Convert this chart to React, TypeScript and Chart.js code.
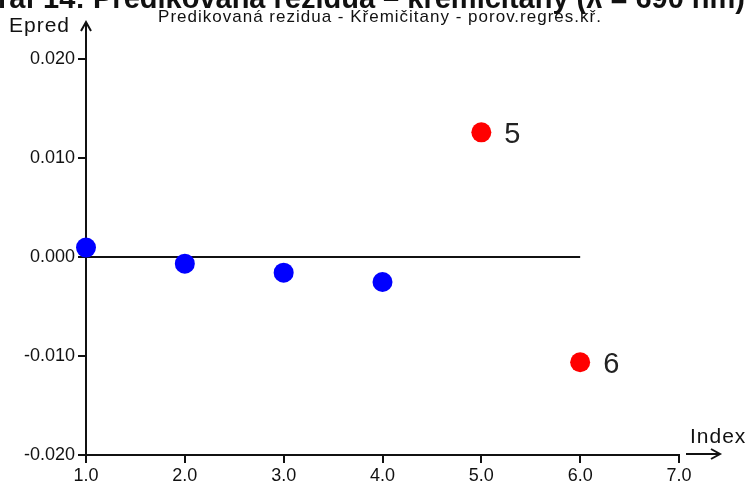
import { useEffect, useRef } from "react";
import { Chart, registerables } from "chart.js";

Chart.register(...registerables);

// Observation index and predicted residual (Epred) for each sample
const pointIndex = [1, 2, 3, 4, 5, 6];
const predictedResiduals = [0.00095, -0.00067, -0.00158, -0.00253, 0.01259, -0.01063];
// Samples flagged as outliers (drawn red and labelled with their index)
const outlierIndex = [5, 6];

// Axis tick values
const xTickValues = [1, 2, 3, 4, 5, 6, 7];
const yTickValues = [-0.02, -0.01, 0, 0.01, 0.02];

const titleText = "Graf 14: Predikovaná rezidua – křemičitany (λ = 690 nm)";
const subtitleText = "Predikovaná rezidua - Křemičitany - porov.regres.kř.";
const yAxisName = "Epred";
const xAxisName = "Index";

const FONT = "'Liberation Sans', Arial, Helvetica, sans-serif";
const INK = "#111111";

const regularPoints = pointIndex
  .map((x, i) => ({ x, y: predictedResiduals[i] }))
  .filter((p) => !outlierIndex.includes(p.x));
const outlierPoints = pointIndex
  .map((x, i) => ({ x, y: predictedResiduals[i] }))
  .filter((p) => outlierIndex.includes(p.x));
const zeroLine = [
  { x: pointIndex[0], y: 0 },
  { x: pointIndex[pointIndex.length - 1], y: 0 },
];

const decorations = {
  id: "decorations",
  afterDraw(chart: any) {
    const { ctx, chartArea: a } = chart;
    ctx.save();
    ctx.strokeStyle = INK;
    ctx.fillStyle = INK;
    ctx.lineWidth = 2;

    // vertical axis: extension upward with arrow, and stub below the x axis
    ctx.beginPath();
    ctx.moveTo(a.left, a.top);
    ctx.lineTo(a.left, a.top - 37);
    ctx.moveTo(a.left - 5, a.top - 28);
    ctx.lineTo(a.left, a.top - 37);
    ctx.lineTo(a.left + 5, a.top - 28);
    ctx.moveTo(a.left, a.bottom);
    ctx.lineTo(a.left, a.bottom + 8);
    // horizontal axis arrow
    const ay = a.bottom - 1;
    ctx.moveTo(a.right + 7, ay);
    ctx.lineTo(a.right + 41, ay);
    ctx.moveTo(a.right + 32, ay - 5);
    ctx.lineTo(a.right + 41, ay);
    ctx.lineTo(a.right + 32, ay + 5);
    ctx.stroke();

    // title (wider than the canvas, right aligned)
    ctx.font = `bold 29px ${FONT}`;
    ctx.textAlign = "right";
    ctx.textBaseline = "alphabetic";
    ctx.fillText(titleText, 745, 8);

    // subtitle
    ctx.font = `17px ${FONT}`;
    ctx.textAlign = "center";
    (ctx as any).letterSpacing = "1px";
    ctx.fillText(subtitleText, 380, 22);

    // axis names
    (ctx as any).letterSpacing = "1px";
    ctx.font = `21px ${FONT}`;
    ctx.textAlign = "left";
    ctx.fillText(yAxisName, 9, 32);
    ctx.fillText(xAxisName, 690, 443);
    (ctx as any).letterSpacing = "0px";

    // index labels beside outlier points
    const meta = chart.getDatasetMeta(1);
    ctx.font = `29px ${FONT}`;
    ctx.fillStyle = "#222222";
    ctx.textAlign = "left";
    ctx.textBaseline = "middle";
    meta.data.forEach((pt: any, i: number) => {
      ctx.fillText(String(outlierPoints[i].x), pt.x + 23, pt.y + 3);
    });
    ctx.restore();
  },
};

export default function App() {
  const canvasRef = useRef<HTMLCanvasElement | null>(null);

  useEffect(() => {
    if (!canvasRef.current) return;
    const chart = new Chart(canvasRef.current, {
      type: "scatter",
      data: {
        datasets: [
          {
            label: "rezidua",
            data: regularPoints,
            backgroundColor: "#0000ff",
            borderWidth: 0,
            pointRadius: 10,
            pointHoverRadius: 10,
            order: 1,
            clip: false as any,
          },
          {
            label: "odlehlé",
            data: outlierPoints,
            backgroundColor: "#ff0000",
            borderWidth: 0,
            pointRadius: 10,
            pointHoverRadius: 10,
            order: 1,
            clip: false as any,
          },
          {
            type: "line" as any,
            label: "nula",
            data: zeroLine,
            borderColor: INK,
            borderWidth: 2,
            pointRadius: 0,
            showLine: true,
            fill: false,
            order: 3,
          },
        ],
      },
      options: {
        animation: false,
        responsive: false,
        events: [],
        layout: { padding: { left: 0, top: 59, right: 73, bottom: 0 } },
        plugins: {
          legend: { display: false },
          title: { display: false },
          tooltip: { enabled: false },
        },
        scales: {
          x: {
            type: "linear",
            min: 1,
            max: 7,
            afterBuildTicks: (s: any) => {
              s.ticks = xTickValues.map((value) => ({ value }));
            },
            afterFit: (s: any) => {
              s.height = 31;
            },
            border: { display: true, color: INK, width: 2 },
            grid: {
              drawOnChartArea: false,
              drawTicks: true,
              tickLength: 8,
              color: INK,
              lineWidth: 2,
            },
            ticks: {
              color: INK,
              padding: 2,
              maxRotation: 0,
              font: { family: FONT, size: 18 },
              callback: (v: any) => Number(v).toFixed(1),
            },
          },
          y: {
            type: "linear",
            min: -0.02,
            max: 0.02,
            afterBuildTicks: (s: any) => {
              s.ticks = yTickValues.map((value) => ({ value }));
            },
            afterFit: (s: any) => {
              s.width = 86;
            },
            border: { display: true, color: INK, width: 2 },
            grid: {
              drawOnChartArea: false,
              drawTicks: true,
              tickLength: 8,
              color: INK,
              lineWidth: 2,
            },
            ticks: {
              color: INK,
              padding: 3,
              font: { family: FONT, size: 18 },
              callback: (v: any) => Number(v).toFixed(3),
            },
          },
        },
      },
      plugins: [decorations],
    });
    return () => chart.destroy();
  }, []);

  return (
    <div style={{ position: "fixed", left: 0, top: 0, width: 752, height: 486, background: "#fff" }}>
      <canvas ref={canvasRef} width={752} height={486} style={{ display: "block" }} />
    </div>
  );
}
